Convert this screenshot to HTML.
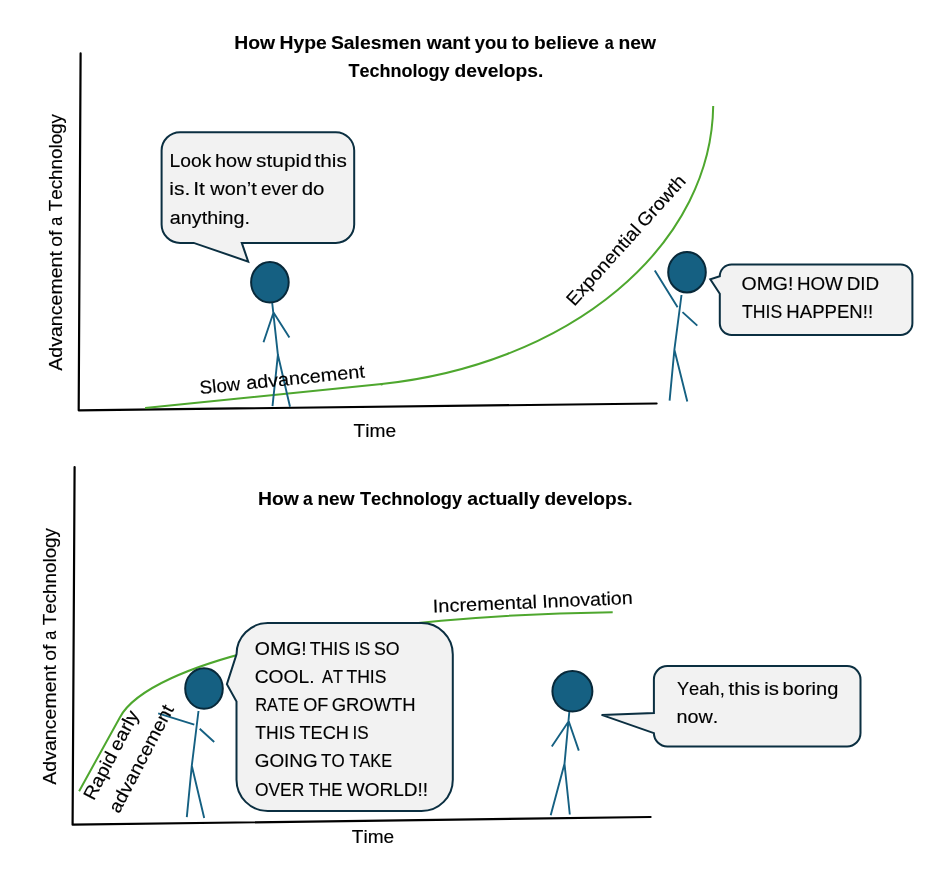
<!DOCTYPE html>
<html>
<head>
<meta charset="utf-8">
<title>Hype vs Reality</title>
<style>
  html, body { margin: 0; padding: 0; background: #ffffff; }
  body { width: 932px; height: 884px; overflow: hidden; font-family: "Liberation Sans", sans-serif; }
  svg { display: block; will-change: transform; }
  text { font-family: "Liberation Sans", sans-serif; fill: #000000; stroke: #000000; stroke-width: 0.15px;
         font-kerning: none; font-variant-ligatures: none; white-space: pre; }
  .t { font-size: 18.4px; }
  .b { font-size: 18.4px; font-weight: bold; stroke-width: 0.1px; }
  .ax { stroke: #000000; stroke-width: 2.2; fill: none; stroke-linejoin: round; stroke-linecap: round; }
  .gr { stroke: #4ea72e; stroke-width: 2; fill: none; stroke-linecap: butt; stroke-linejoin: round; }
  .st { stroke: #156082; stroke-width: 1.9; fill: none; stroke-linecap: butt; }
  .hd { fill: #156082; stroke: #08293a; stroke-width: 2; }
  .bb { fill: #f2f2f2; stroke: #0b2f41; stroke-width: 2; stroke-linejoin: miter; }
</style>
</head>
<body>
<svg width="932" height="884" viewBox="0 0 932 884">
  <rect x="0" y="0" width="932" height="884" fill="#ffffff"/>
  <!-- ============ TOP CHART ============ -->
  <polyline class="ax" points="80.6,53.4 78.7,410.3 656.6,403.5"/>
  <path class="gr" d="M145.1,407.9 L381.7,384.0 A387,283.5 0 0 0 713.2,106.1"/>
  <circle cx="381.6" cy="384.2" r="1.25" fill="#4ea72e"/>
  <!-- figure 1 -->
  <path class="st" d="M272.1,302 L277.9,354.8 M273.5,312.5 L263.5,342.3 M273.5,312.5 L289.4,337.5 M277.9,354.8 L272.5,406.2 M277.9,354.8 L290,406.7"/>
  <ellipse class="hd" cx="269.9" cy="282.3" rx="18.8" ry="20.3"/>
  <!-- bubble 1 -->
  <path class="bb" d="M180.1,132.2 H335.8 A18.5,18.5 0 0 1 354.2,150.6 V224.4 A18.5,18.5 0 0 1 335.8,242.9 H241.8 L248.2,261.6 L193.7,242.9 H180.1 A18.5,18.5 0 0 1 161.6,224.4 V150.6 A18.5,18.5 0 0 1 180.1,132.2 Z"/>
  <!-- figure 2 -->
  <path class="st" d="M681.5,295 L674.4,349.7 M654.8,270.6 L677.6,307.2 M682.5,312.1 L697.3,325.6 M674.4,349.7 L669.6,400.6 M674.4,349.7 L687.3,401.5"/>
  <ellipse class="hd" cx="687" cy="272.2" rx="18.8" ry="20.3"/>
  <!-- bubble 2 -->
  <path class="bb" d="M731.6,264.4 H900.6 A11.8,11.8 0 0 1 912.4,276.2 V323.2 A11.8,11.8 0 0 1 900.6,335.0 H731.6 A11.8,11.8 0 0 1 719.8,323.2 V293.8 L710.3,279.4 L719.8,276.2 A11.8,11.8 0 0 1 731.6,264.4 Z"/>

  <!-- ============ BOTTOM CHART ============ -->
  <polyline class="ax" points="74.6,467 72.6,824.7 650.6,817.0"/>
  <path class="gr" d="M79.1,791.2 L119.85,717.4 A518,120 0 0 1 612.7,612.3"/>
  <!-- figure 3 -->
  <path class="st" d="M198.5,711 L191.8,765.7 M158.2,713.4 L194.3,724.6 M199.7,728.8 L214.2,742 M191.8,765.7 L186.8,817.2 M191.8,765.7 L204.2,818"/>
  <ellipse class="hd" cx="204" cy="688.5" rx="18.8" ry="20.3"/>
  <!-- bubble 3 -->
  <path class="bb" d="M267.8,623.1 H421.5 A31.3,31.3 0 0 1 452.8,654.4 V779.7 A31.3,31.3 0 0 1 421.5,811.0 H267.8 A31.3,31.3 0 0 1 236.5,779.7 V701.4 L226.9,684.2 L236.5,654.4 A31.3,31.3 0 0 1 267.8,623.1 Z"/>
  <!-- figure 4 -->
  <path class="st" d="M569.4,711 L564.5,763.8 M568.7,721.3 L551.8,746.5 M568.7,721.3 L578.8,750.6 M564.5,763.8 L550.7,815.2 M564.5,763.8 L569.8,814.5"/>
  <ellipse class="hd" cx="572.4" cy="691.3" rx="20" ry="20.2"/>
  <!-- bubble 4 -->
  <path class="bb" d="M667.3,666.1 H847.1 A13.4,13.4 0 0 1 860.5,679.5 V733.1 A13.4,13.4 0 0 1 847.1,746.5 H667.3 A13.4,13.4 0 0 1 653.9,733.1 L601.6,714.9 L653.9,713.0 V679.5 A13.4,13.4 0 0 1 667.3,666.1 Z"/>

  <!-- text -->
  <text class="b" transform="translate(0.00,48.70) translate(234.21,0) scale(1.0519,1)">How</text>
  <text class="b" transform="translate(0.00,48.70) translate(279.51,0) scale(1.0502,1)">Hype</text>
  <text class="b" transform="translate(0.00,48.70) translate(330.94,0) scale(1.0505,1)">Salesmen</text>
  <text class="b" transform="translate(0.00,48.70) translate(426.76,0) scale(1.0421,1)">want</text>
  <text class="b" transform="translate(0.00,48.70) translate(474.86,0) scale(1.0014,1)">you</text>
  <text class="b" transform="translate(0.00,48.70) translate(511.77,0) scale(1.0108,1)">to</text>
  <text class="b" transform="translate(0.00,48.70) translate(534.04,0) scale(1.0420,1)">believe</text>
  <text class="b" transform="translate(0.00,48.70) translate(604.63,0) scale(0.8766,1)">a</text>
  <text class="b" transform="translate(0.00,48.70) translate(618.53,0) scale(1.0489,1)">new</text>
  <text class="b" transform="translate(0.00,76.90) translate(348.50,0) scale(0.9792,1)">Technology</text>
  <text class="b" transform="translate(0.00,76.90) translate(454.61,0) scale(1.0464,1)">develops.</text>
  <text class="b" transform="translate(0.00,504.60) translate(257.91,0) scale(1.0519,1)">How</text>
  <text class="b" transform="translate(0.00,504.60) translate(303.09,0) scale(0.9479,1)">a</text>
  <text class="b" transform="translate(0.00,504.60) translate(317.45,0) scale(1.0344,1)">new</text>
  <text class="b" transform="translate(0.00,504.60) translate(359.90,0) scale(0.9908,1)">Technology</text>
  <text class="b" transform="translate(0.00,504.60) translate(467.33,0) scale(1.0591,1)">actually</text>
  <text class="b" transform="translate(0.00,504.60) translate(544.41,0) scale(1.0404,1)">develops.</text>
  <text class="t" transform="translate(62.00,370.70) rotate(-90) translate(-0.04,0) scale(1.0637,1)">Advancement</text>
  <text class="t" transform="translate(62.00,370.70) rotate(-90) translate(123.88,0) scale(1.0617,1)">of</text>
  <text class="t" transform="translate(62.00,370.70) rotate(-90) translate(145.01,0) scale(0.8782,1)">a</text>
  <text class="t" transform="translate(62.00,370.70) rotate(-90) translate(159.38,0) scale(1.0235,1)">Technology</text>
  <text class="t" transform="translate(55.70,784.70) rotate(-90) translate(-0.04,0) scale(1.0637,1)">Advancement</text>
  <text class="t" transform="translate(55.70,784.70) rotate(-90) translate(123.88,0) scale(1.0617,1)">of</text>
  <text class="t" transform="translate(55.70,784.70) rotate(-90) translate(145.01,0) scale(0.8782,1)">a</text>
  <text class="t" transform="translate(55.70,784.70) rotate(-90) translate(159.38,0) scale(1.0235,1)">Technology</text>
  <text class="t" transform="translate(0.00,436.80) translate(353.62,0) scale(1.0427,1)">Time</text>
  <text class="t" transform="translate(0.00,842.80) translate(351.87,0) scale(1.0364,1)">Time</text>
  <text class="t" transform="translate(201.10,394.00) rotate(-5.8) translate(-0.85,0) scale(1.0233,1)">Slow</text>
  <text class="t" transform="translate(201.10,394.00) rotate(-5.8) translate(45.86,0) scale(1.0789,1)">advancement</text>
  <text class="t" transform="translate(575.20,305.70) rotate(-48) translate(-1.60,0) scale(1.0597,1)">Exponential</text>
  <text class="t" transform="translate(575.20,305.70) rotate(-48) translate(104.02,0) scale(1.0597,1)">Growth</text>
  <text class="t" transform="translate(434.90,612.40) rotate(-2.47) translate(-1.84,0) scale(1.0858,1)">Incremental</text>
  <text class="t" transform="translate(434.90,612.40) rotate(-2.47) translate(107.59,0) scale(1.0668,1)">Innovation</text>
  <text class="t" transform="translate(94.50,799.90) rotate(-62.3) translate(-1.62,0) scale(1.0717,1)">Rapid</text>
  <text class="t" transform="translate(94.50,799.90) rotate(-62.3) translate(53.80,0) scale(1.0717,1)">early</text>
  <text class="t" transform="translate(119.30,813.50) rotate(-62.3) translate(-0.84,0) scale(1.0789,1)">advancement</text>
  <text class="t" transform="translate(0.00,166.70) translate(169.52,0) scale(1.0464,1)">Look</text>
  <text class="t" transform="translate(0.00,166.70) translate(215.02,0) scale(1.0823,1)">how</text>
  <text class="t" transform="translate(0.00,166.70) translate(256.12,0) scale(1.1329,1)">stupid</text>
  <text class="t" transform="translate(0.00,166.70) translate(314.49,0) scale(1.1268,1)">this</text>
  <text class="t" transform="translate(0.00,195.00) translate(169.29,0) scale(1.1427,1)">is.</text>
  <text class="t" transform="translate(0.00,195.00) translate(193.26,0) scale(1.1440,1)">It</text>
  <text class="t" transform="translate(0.00,195.00) translate(210.33,0) scale(1.0829,1)">won’t</text>
  <text class="t" transform="translate(0.00,195.00) translate(261.00,0) scale(1.0286,1)">ever</text>
  <text class="t" transform="translate(0.00,195.00) translate(301.74,0) scale(1.1099,1)">do</text>
  <text class="t" transform="translate(0.00,223.60) translate(169.86,0) scale(1.0732,1)">anything.</text>
  <text class="t" transform="translate(0.00,290.10) translate(741.48,0) scale(1.0597,1)">OMG!</text>
  <text class="t" transform="translate(0.00,290.10) translate(796.96,0) scale(1.0209,1)">HOW</text>
  <text class="t" transform="translate(0.00,290.10) translate(846.75,0) scale(1.0240,1)">DID</text>
  <text class="t" transform="translate(0.00,317.90) translate(742.00,0) scale(0.9593,1)">THIS</text>
  <text class="t" transform="translate(0.00,317.90) translate(786.37,0) scale(1.0108,1)">HAPPEN!!</text>
  <text class="t" transform="translate(0.00,654.50) translate(254.78,0) scale(1.0597,1)">OMG!</text>
  <text class="t" transform="translate(0.00,654.50) translate(309.70,0) scale(0.9642,1)">THIS</text>
  <text class="t" transform="translate(0.00,654.50) translate(354.44,0) scale(0.9163,1)">IS</text>
  <text class="t" transform="translate(0.00,654.50) translate(373.99,0) scale(0.9651,1)">SO</text>
  <text class="t" transform="translate(0.00,682.80) translate(254.72,0) scale(1.0450,1)">COOL.</text>
  <text class="t" transform="translate(0.00,682.80) translate(321.97,0) scale(0.8936,1)">AT</text>
  <text class="t" transform="translate(0.00,682.80) translate(346.41,0) scale(0.9544,1)">THIS</text>
  <text class="t" transform="translate(0.00,711.20) translate(255.15,0) scale(0.8937,1)">RATE</text>
  <text class="t" transform="translate(0.00,711.20) translate(303.14,0) scale(0.9815,1)">OF</text>
  <text class="t" transform="translate(0.00,711.20) translate(331.67,0) scale(1.0015,1)">GROWTH</text>
  <text class="t" transform="translate(0.00,739.30) translate(255.31,0) scale(0.9519,1)">THIS</text>
  <text class="t" transform="translate(0.00,739.30) translate(299.49,0) scale(0.9881,1)">TECH</text>
  <text class="t" transform="translate(0.00,739.30) translate(352.42,0) scale(0.9298,1)">IS</text>
  <text class="t" transform="translate(0.00,767.40) translate(254.75,0) scale(1.0265,1)">GOING</text>
  <text class="t" transform="translate(0.00,767.40) translate(321.02,0) scale(0.9234,1)">TO</text>
  <text class="t" transform="translate(0.00,767.40) translate(349.53,0) scale(0.8836,1)">TAKE</text>
  <text class="t" transform="translate(0.00,795.60) translate(254.88,0) scale(0.9460,1)">OVER</text>
  <text class="t" transform="translate(0.00,795.60) translate(308.72,0) scale(0.9158,1)">THE</text>
  <text class="t" transform="translate(0.00,795.60) translate(346.72,0) scale(1.0343,1)">WORLD!!</text>
  <text class="t" transform="translate(0.00,694.70) translate(676.90,0) scale(0.9951,1)">Yeah,</text>
  <text class="t" transform="translate(0.00,694.70) translate(728.59,0) scale(1.1015,1)">this</text>
  <text class="t" transform="translate(0.00,694.70) translate(764.24,0) scale(1.1060,1)">is</text>
  <text class="t" transform="translate(0.00,694.70) translate(782.61,0) scale(1.0907,1)">boring</text>
  <text class="t" transform="translate(0.00,722.80) translate(676.39,0) scale(1.0761,1)">now.</text>
</svg>
</body>
</html>
